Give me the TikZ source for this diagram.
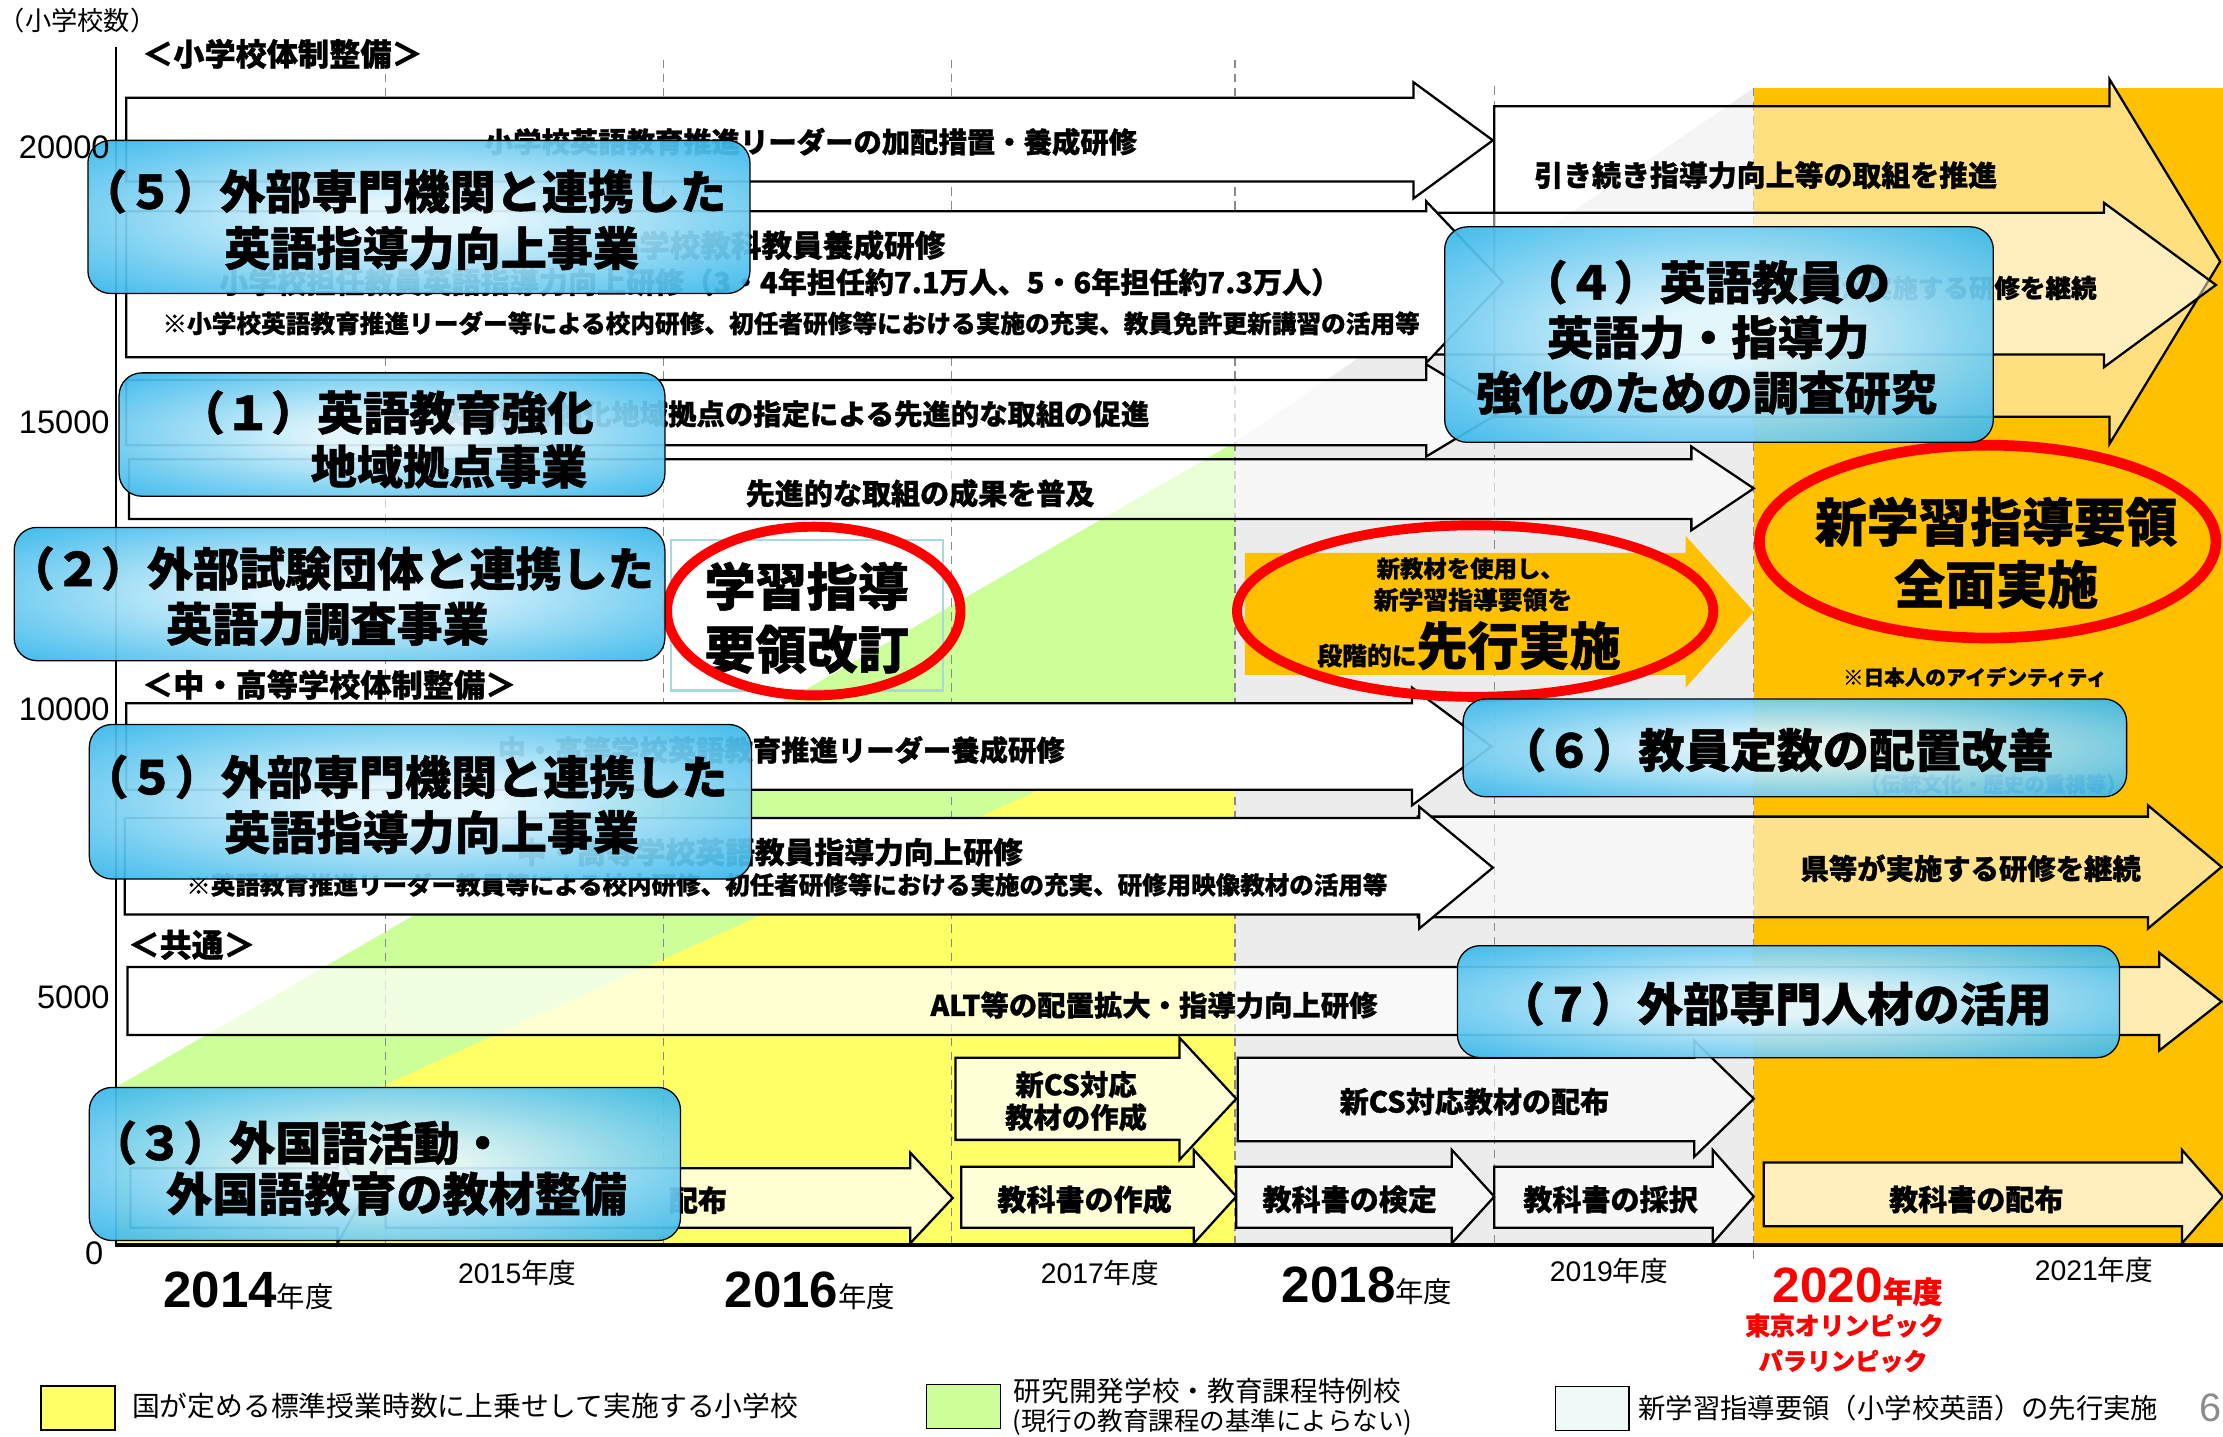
\documentclass[tikz,border=0pt]{standalone}
\usepackage{fontspec}
\setmainfont{Noto Sans CJK JP}[BoldFeatures={FakeBold=1}]
\newfontfamily\lsans{Liberation Sans}
\newcommand{\setfs}[1]{\fontsize{#1}{#1}\selectfont}
% #1 style, #2 x left, #3 x head start, #4 x tip, #5 body top, #6 body bottom, #7 head top, #8 head bottom
\newcommand{\blkarrow}[8]{\path[#1] (#2,#5) -- (#3,#5) -- (#3,#7) -- (#4,{0.5*(#7)+0.5*(#8)}) -- (#3,#8) -- (#3,#6) -- (#2,#6) -- cycle;}
\definecolor{cOrange}{HTML}{FFC000}
\definecolor{cYellow}{HTML}{FFFF66}
\definecolor{cGreen}{HTML}{CCFF99}
\definecolor{cGray}{HTML}{ECECEC}
\definecolor{cLeg}{HTML}{F0F9F8}
\definecolor{cTeal}{HTML}{A8D8DC}
\definecolor{cRed}{HTML}{FF0000}
\definecolor{cDash}{HTML}{8A8A8A}
\definecolor{boxin}{RGB}{226,246,253}
\definecolor{boxmid}{RGB}{100,200,240}
\definecolor{boxout}{RGB}{20,170,230}
\pgfdeclareradialshading{boxglow}{\pgfpoint{0bp}{0bp}}{color(0bp)=(boxin); color(6bp)=(boxin); color(27bp)=(boxmid); color(41bp)=(boxout); color(75bp)=(boxout)}
\tikzset{
  arrw/.style={draw=black, line width=1.6pt, line join=miter, fill=white},
  arrs/.style={draw=black, line width=1.6pt, line join=miter, fill=white, fill opacity=#1},
  bluebox/.style={draw=black, line width=0.9pt, rounded corners=16pt, shade, shading=boxglow, fill opacity=0.93, inner sep=0pt},
  bt/.style={inner sep=0pt, anchor=west, font=\bfseries\setfs{32.5}},
  tx/.style={inner sep=0pt, font=\bfseries\setfs{#1}},
  rt/.style={inner sep=0pt, font=\setfs{#1}},
  dashln/.style={cDash, line width=1pt, dash pattern=on 6pt off 4pt},
  legsq/.style={draw=black, line width=1pt, minimum width=52pt, minimum height=31pt, inner sep=0pt},
  ylab/.style={inner sep=0pt, anchor=east, font=\lsans\setfs{23}},
  yr/.style={inner sep=0pt, anchor=base west}
}
\begin{document}
\begin{tikzpicture}[x=1pt,y=-1pt]
\useasboundingbox (0,0) rectangle (1568,1013);
\fill[white] (0,0) rectangle (1568,1013);

% ---------- background areas ----------
\fill[cGreen] (83,766) -- (871,312) -- (871,878) -- (83,878) -- cycle;
\fill[cYellow] (83,850) -- (871,495) -- (871,878) -- (83,878) -- cycle;
\fill[cGray] (871,312) -- (1237,62) -- (1237,878) -- (871,878) -- cycle;
\fill[cOrange] (1237,62) rectangle (1568,878);

% ---------- dashed year separators ----------
\foreach \xx in {272,468,671,871} \draw[dashln] (\xx,42) -- (\xx,878);
\draw[dashln] (1054,61) -- (1054,878);
\draw[dashln] (1237,62) -- (1237,888);

% ---------- block arrows ----------
\blkarrow{arrs=0.5}{1054}{1488}{1566}{75}{294}{56}{313}
\blkarrow{arrs=0.5}{1010}{1484}{1563}{150}{250}{143}{259}
\blkarrow{arrw}{89}{997}{1053}{69}{128}{58}{140}
\blkarrow{arrw}{89}{1006}{1060}{149}{252}{142}{256}
\blkarrow{arrs=0.7}{89}{1006}{1060}{268}{314}{257}{322}
\blkarrow{arrs=0.6}{91}{1193}{1237}{324}{366}{315}{374}
\blkarrow{arrs=0.55}{1000}{1515}{1567}{576}{647}{568}{655}
\blkarrow{arrw}{89}{996}{1052}{496}{557}{485}{568}
\blkarrow{arrw}{88}{1001}{1053}{577}{645}{569}{655}
\blkarrow{arrs=0.7}{90}{1523}{1567}{682}{730}{672}{741}
\blkarrow{arrs=0.75}{674}{832}{872}{746}{804}{732}{818}
\blkarrow{arrs=0.6}{873}{1195}{1237}{746}{805}{734}{816}
\blkarrow{arrs=0.7}{92}{238}{256}{824}{866}{813}{877}
\blkarrow{arrs=0.7}{272}{642}{672}{824}{866}{813}{877}
\blkarrow{arrs=0.75}{678}{842}{872}{823}{866}{811}{877}
\blkarrow{arrs=0.6}{872}{1024}{1054}{823}{866}{811}{877}
\blkarrow{arrs=0.6}{1054}{1208}{1237}{823}{866}{811}{877}
\blkarrow{arrs=0.75}{1244}{1539}{1568}{820}{865}{811}{877}

% ---------- axes ----------
\draw[line width=1.3pt] (82,33) -- (82,878);
\draw[line width=2.5pt] (81,878) -- (1568,878);

% ---------- arrow texts ----------
\node[tx=20] (tA1) at (572,100) {小学校英語教育推進リーダーの加配措置・養成研修};
\node[tx=21.6] (tA2a) at (548,173) {小学校教科教員養成研修};
\node[tx=20.5] (tA2b) at (550,199) {小学校担任教員英語指導力向上研修（3・4年担任約7.1万人、5・6年担任約7.3万人）};
\node[tx=17.4] (tA2c) at (558,228) {※小学校英語教育推進リーダー等による校内研修、初任者研修等における実施の充実、教員免許更新講習の活用等};
\node[tx=20] (tA3) at (561,292) {英語教育強化地域拠点の指定による先進的な取組の促進};
\node[tx=20.5] (tA4) at (649,348) {先進的な取組の成果を普及};
\node[tx=20] (tB1) at (551,529) {中・高等学校英語教育推進リーダー養成研修};
\node[tx=21] (tB2a) at (543,601) {中・高等学校英語教員指導力向上研修};
\node[tx=17.3] (tB2b) at (555,624) {※英語教育推進リーダー教員等による校内研修、初任者研修等における実施の充実、研修用映像教材の活用等};
\node[tx=20] (tC1) at (814,709) {ALT等の配置拡大・指導力向上研修};
\node[tx=20] (tC2a) at (759,765) {新CS対応};
\node[tx=20] (tC2b) at (759,788) {教材の作成};
\node[tx=20.5] (tC3) at (1040,777) {新CS対応教材の配布};
\node[tx=20.5, anchor=east] (tD0) at (513,846.5) {配布};
\node[tx=20.5] (tD1) at (765,846) {教科書の作成};
\node[tx=20.5] (tD2) at (952,846) {教科書の検定};
\node[tx=20.5] (tD3) at (1136,846) {教科書の採択};
\node[tx=20.5] (tD4) at (1394,846) {教科書の配布};
\node[tx=20.4, anchor=west] (tR1) at (1082,123.5) {引き続き指導力向上等の取組を推進};
\node[tx=18, anchor=east] (tR2) at (1479,203) {県等が実施する研修を継続};
\node[tx=20] (tR3) at (1390,612.5) {県等が実施する研修を継続};

% ---------- early implementation arrow ----------
\blkarrow{fill=cOrange}{878}{1189}{1237}{390}{476}{378}{485}
\node[tx=16.5] (tE2a) at (1037,401) {新教材を使用し、};
\node[tx=17.5] (tE2b) at (1039,423) {新学習指導要領を};
\node[tx=17.5, anchor=base west] (tE2c) at (929,469) {段階的に\setfs{36}先行実施};

% ---------- revision texts ----------
\draw[cTeal, line width=1.5pt] (473,381) rectangle (665,487);
\node[tx=36] (tE1a) at (569,413.5) {学習指導};
\node[tx=36] (tE1b) at (569,458) {要領改訂};
\node[tx=36.5] (tE3a) at (1408,368) {新学習指導要領};
\node[tx=36] (tE3b) at (1408,412) {全面実施};
\node[tx=14.5] (tId) at (1393,477.5) {※日本人のアイデンティティ};
\node[tx=14.5] (tId2) at (1406,553) {（伝統文化・歴史の重視等）};

% ---------- red ellipses ----------
\draw[cRed, line width=7pt] (574,431) ellipse [x radius=103.5, y radius=59.5];
\draw[cRed, line width=7pt] (1040.5,431) ellipse [x radius=168, y radius=60.5];
\draw[cRed, line width=7.5pt] (1402,382) ellipse [x radius=161, y radius=68];

% ---------- blue project boxes ----------
\node[bluebox, minimum width=467pt, minimum height=108pt] (b5a) at (295.5,153) {};
\node[bt] (b5a1) at (57,135) {（５）外部専門機関と連携した};
\node[bt] (b5a2) at (158,175) {英語指導力向上事業};

\node[bluebox, minimum width=385pt, minimum height=87pt] (b1) at (276.5,306.5) {};
\node[bt] (b1a) at (126,291) {（１）英語教育強化};
\node[bt] (b1b) at (219,329) {地域拠点事業};

\node[bluebox, minimum width=459pt, minimum height=94pt] (b2) at (239.5,419) {};
\node[bt] (b2a) at (6,401) {（２）外部試験団体と連携した};
\node[bt] (b2b) at (117,440) {英語力調査事業};

\node[bluebox, minimum width=387pt, minimum height=152pt] (b4) at (1212.5,236) {};
\node[bt] (b4a) at (1073,199) {（４）英語教員の};
\node[bt] (b4b) at (1091,238) {英語力・指導力};
\node[bt] (b4c) at (1041,277) {強化のための調査研究};

\node[bluebox, minimum width=467pt, minimum height=109pt] (b5b) at (296.5,565.5) {};
\node[bt] (b5b1) at (58,548) {（５）外部専門機関と連携した};
\node[bt] (b5b2) at (158,587) {英語指導力向上事業};

\node[bluebox, minimum width=468pt, minimum height=69pt] (b6) at (1266,527.5) {};
\node[bt] (b6a) at (1058,529) {（６）教員定数の配置改善};

\node[bluebox, minimum width=467pt, minimum height=79pt] (b7) at (1261.5,706.5) {};
\node[bt] (b7a) at (1057,708) {（７）外部専門人材の活用};

\node[bluebox, minimum width=417pt, minimum height=108pt] (b3) at (271.5,821) {};
\node[bt] (b3a) at (64,806) {（３）外国語活動・};
\node[bt] (b3b) at (117,842) {外国語教育の教材整備};

% ---------- section labels ----------
\node[tx=22, anchor=west] (s1) at (100,38) {＜小学校体制整備＞};
\node[tx=22, anchor=west] (s2) at (100,483) {＜中・高等学校体制整備＞};
\node[tx=22.5, anchor=west] (s3) at (90,666.5) {＜共通＞};

% ---------- axis labels ----------
\node[rt=18.5, anchor=west] (yunit) at (-1,14.5) {（小学校数）};
\node[ylab] (y20) at (77.5,104) {20000};
\node[ylab] (y15) at (77.5,298) {15000};
\node[ylab] (y10) at (77.5,500) {10000};
\node[ylab] (y5) at (77.5,703.5) {5000};
\node[ylab] (y0) at (73,884) {0};

\node[yr] (fy14) at (115,922) {\lsans\bfseries\setfs{36}2014\normalfont\setfs{20}年度};
\node[yr] (fy15) at (323,905) {\lsans\setfs{20}2015\normalfont\setfs{19.5}年度};
\node[yr] (fy16) at (511,922) {\lsans\bfseries\setfs{36}2016\normalfont\setfs{20}年度};
\node[yr] (fy17) at (734,905) {\lsans\setfs{20}2017\normalfont\setfs{19.5}年度};
\node[yr] (fy18) at (904,919) {\lsans\bfseries\setfs{36}2018\normalfont\setfs{20}年度};
\node[yr] (fy19) at (1093,904) {\lsans\setfs{20}2019\normalfont\setfs{19.5}年度};
\node[yr, text=cRed] (fy20) at (1250,919) {\lsans\bfseries\setfs{35}2020\normalfont\bfseries\setfs{21}年度};
\node[yr] (fy21) at (1435,903) {\lsans\setfs{20}2021\normalfont\setfs{19.5}年度};
\node[tx=17.5, text=cRed] (oly) at (1301,935) {東京オリンピック};
\node[tx=17, text=cRed] (para) at (1300,960) {パラリンピック};

% ---------- legend ----------
\node[legsq, fill=cYellow] (lg1) at (55,993) {};
\node[rt=19.6, anchor=west] (lt1) at (93,992) {国が定める標準授業時数に上乗せして実施する小学校};
\node[legsq, fill=cGreen] (lg2) at (679.5,992) {};
\node[rt=19.5, anchor=west] (lt2a) at (715,981) {研究開発学校・教育課程特例校};
\node[rt=18, anchor=west] (lt2b) at (714,1003) {(現行の教育課程の基準によらない)};
\node[legsq, fill=cLeg] (lg3) at (1123,993.5) {};
\node[rt=19.3] (lt3) at (1339,993) {新学習指導要領（小学校英語）の先行実施};
\node[inner sep=0pt, anchor=west, text=black!45, font=\lsans\setfs{28}] (pg) at (1551,993) {6};
\end{tikzpicture}
\end{document}
